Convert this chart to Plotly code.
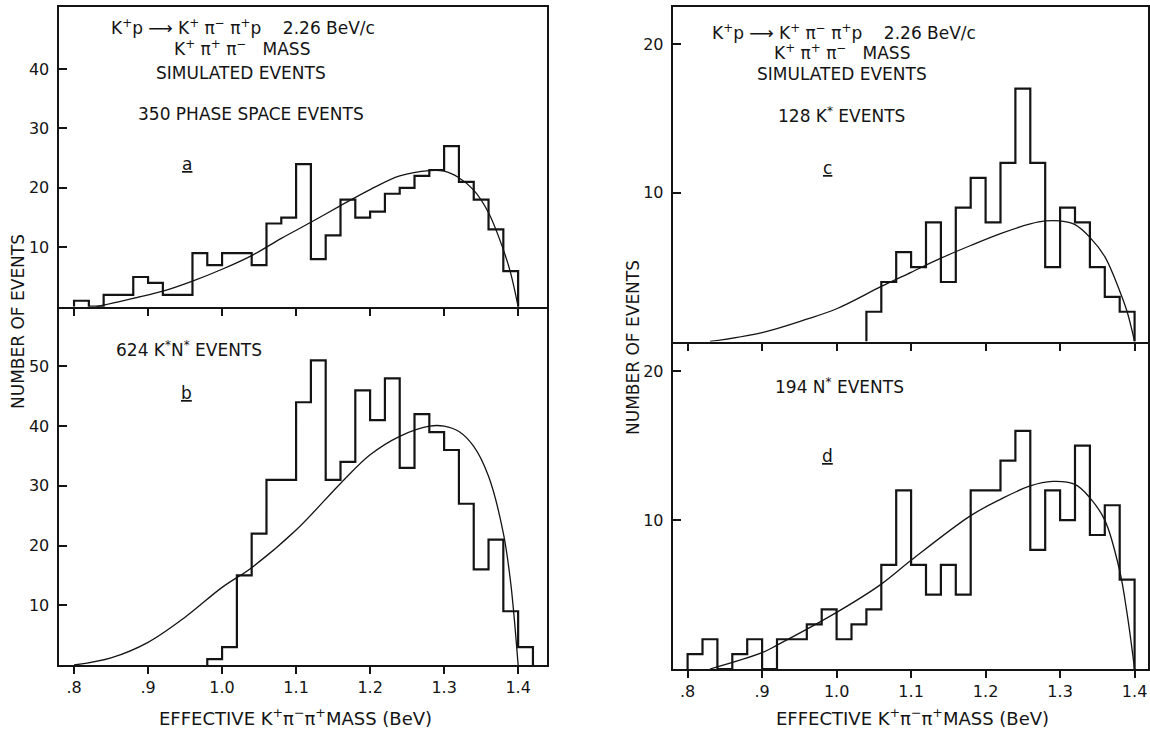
import plotly.graph_objects as go

W, H = 1150, 729
BIN = 0.02

# ---------------- data ----------------
# (a) 350 phase space events
a_start = 0.80
a_counts = [1, 0, 2, 2, 5, 4, 2, 2, 9, 7, 9, 9, 7, 14, 15, 24, 8, 12, 18, 15,
            16, 19, 20, 22, 23, 27, 21, 18, 13, 6]
a_curve_x = [0.83, 0.86, 0.88, 0.92, 0.96, 1.00, 1.04, 1.08, 1.12, 1.16, 1.20,
             1.24, 1.28, 1.30, 1.32, 1.34, 1.36, 1.38, 1.39, 1.40]
a_curve_y = [0.0, 0.8, 1.4, 2.6, 4.3, 6.3, 8.6, 11.5, 14.2, 17.0, 19.7,
             22.0, 22.9, 22.8, 21.7, 19.6, 15.8, 9.6, 5.6, 0.0]

# (b) 624 K*N* events
b_start = 0.98
b_counts = [1, 3, 15, 22, 31, 31, 44, 51, 31, 34, 46, 41, 48, 33, 42, 39, 36,
            27, 16, 21, 9, 3]
b_curve_x = [0.80, 0.85, 0.90, 0.95, 1.00, 1.04, 1.10, 1.16, 1.20, 1.24, 1.28,
             1.30, 1.32, 1.34, 1.36, 1.38, 1.39, 1.40]
b_curve_y = [0.0, 1.2, 3.8, 8.0, 13.0, 16.3, 22.6, 30.4, 35.2, 38.3, 40.0,
             40.0, 39.1, 36.6, 31.6, 22.1, 13.7, 0.0]

# (c) 128 K* events
c_start = 1.04
c_counts = [2, 4, 6, 5, 8, 4, 9, 11, 8, 12, 17, 12, 5, 9, 8, 5, 3, 2]
c_curve_x = [0.83, 0.90, 0.96, 1.00, 1.06, 1.10, 1.14, 1.18, 1.22, 1.26, 1.28,
             1.30, 1.32, 1.34, 1.36, 1.38, 1.39, 1.40]
c_curve_y = [0.0, 0.6, 1.5, 2.2, 3.7, 4.65, 5.6, 6.45, 7.25, 7.9, 8.1,
             8.1, 7.85, 7.0, 5.7, 3.4, 2.0, 0.0]

# (d) 194 N* events
d_start = 0.80
d_counts = [1, 2, 0, 1, 2, 0, 2, 2, 3, 4, 2, 3, 4, 7, 12, 7, 5, 7, 5, 12,
            12, 14, 16, 8, 12, 10, 15, 9, 11, 6]
d_curve_x = [0.83, 0.90, 0.92, 1.00, 1.06, 1.10, 1.18, 1.22, 1.26, 1.29, 1.32,
             1.34, 1.36, 1.38, 1.39, 1.40]
d_curve_y = [0.0, 1.1, 1.6, 3.8, 5.7, 7.3, 10.3, 11.4, 12.3, 12.6, 12.4,
             11.5, 10.0, 6.6, 3.7, 0.0]

x_ticks = [0.8, 0.9, 1.0, 1.1, 1.2, 1.3, 1.4]
x_tick_text = [".8", ".9", "1.0", "1.1", "1.2", "1.3", "1.4"]
a_yticks = [10, 20, 30, 40]
b_yticks = [10, 20, 30, 40, 50]
cd_yticks = [10, 20]

# ---------------- helpers ----------------
def step(start, counts):
    edges = [round(start + BIN * i, 4) for i in range(len(counts) + 1)]
    xs = [edges[0]] + edges
    ys = [0] + list(counts) + [0]
    return xs, ys

def px(x):
    return x / W

def py(y):
    return 1 - y / H

INK = "#141414"
FONT = "DejaVu Sans"

fig = go.Figure()
panels = [
    (a_start, a_counts, a_curve_x, a_curve_y, "x", "y"),
    (b_start, b_counts, b_curve_x, b_curve_y, "x2", "y2"),
    (c_start, c_counts, c_curve_x, c_curve_y, "x3", "y3"),
    (d_start, d_counts, d_curve_x, d_curve_y, "x4", "y4"),
]
for start, counts, cx, cy, xa, ya in panels:
    hx, hy = step(start, counts)
    fig.add_trace(go.Scatter(x=hx, y=hy, mode="lines", line=dict(color=INK, width=2.2, shape="hv"),
                             xaxis=xa, yaxis=ya, showlegend=False, hoverinfo="skip"))
    fig.add_trace(go.Scatter(x=cx, y=cy, mode="lines", line=dict(color=INK, width=1.3, shape="spline", smoothing=1.0),
                             xaxis=xa, yaxis=ya, showlegend=False, hoverinfo="skip"))

# ---------------- axes ----------------
left_dom = [px(58.5), px(547)]
right_dom = [px(672.7), px(1148)]
a_dom = [py(306.7), py(6.5)]
b_dom = [py(665), py(306.7)]
c_dom = [py(341.5), py(6.7)]
d_dom = [py(669), py(341.5)]

def xax(dom, rng, labels, anchor, mirror):
    return dict(domain=dom, range=rng, anchor=anchor, showgrid=False, zeroline=False,
                showline=True, linecolor=INK, linewidth=2, mirror=mirror,
                ticks="outside", ticklen=7, tickwidth=1.5, tickcolor=INK,
                tickvals=x_ticks, ticktext=x_tick_text, showticklabels=labels,
                tickfont=dict(family=FONT, size=16, color=INK))

def yax(dom, rng, tv, anchor):
    return dict(domain=dom, range=rng, anchor=anchor, showgrid=False, zeroline=False,
                showline=True, linecolor=INK, linewidth=2, mirror=True,
                ticks="inside", ticklen=8, tickwidth=1.5, tickcolor=INK,
                tickvals=tv, ticktext=[str(v) for v in tv], ticklabelstandoff=4,
                tickfont=dict(family=FONT, size=16, color=INK))

fig.update_layout(
    width=W, height=H, margin=dict(l=0, r=0, t=0, b=0),
    paper_bgcolor="white", plot_bgcolor="white", showlegend=False,
    xaxis=xax(left_dom, [0.779, 1.439], False, "y", True),
    yaxis=yax(a_dom, [0, 50.5], a_yticks, "x"),
    xaxis2=xax(left_dom, [0.779, 1.439], True, "y2", False),
    yaxis2=yax(b_dom, [0, 60], b_yticks, "x2"),
    xaxis3=xax(right_dom, [0.780, 1.418], False, "y3", True),
    yaxis3=yax(c_dom, [0, 22.5], cd_yticks, "x3"),
    xaxis4=xax(right_dom, [0.780, 1.418], True, "y4", False),
    yaxis4=yax(d_dom, [0, 22], cd_yticks, "x4"),
)

# ---------------- text ----------------
sp = "\u00a0"
reaction = ("K<sup>+</sup>p" + sp + "⟶" + sp + "K<sup>+</sup>" + sp + "π<sup>−</sup>" + sp
            + "π<sup>+</sup>p" + sp * 4 + "2.26 BeV/c")
mass = "K<sup>+</sup>" + sp + "π<sup>+</sup>" + sp + "π<sup>−</sup>" + sp * 3 + "MASS"
xtitle = "EFFECTIVE" + sp + "K<sup>+</sup>π<sup>−</sup>π<sup>+</sup>MASS" + sp + "(BeV)"

TS = 17
texts = [
    # (text, x_px, y_px, size, angle)
    (reaction, 243, 27, TS, 0),
    (mass, 242, 48, TS, 0),
    ("SIMULATED EVENTS", 241, 73, TS, 0),
    ("350 PHASE SPACE EVENTS", 251, 114, TS, 0),
    ("<u>a</u>", 187, 164, TS, 0),
    ("624 K<sup>*</sup>N<sup>*</sup> EVENTS", 189, 349, TS, 0),
    ("<u>b</u>", 186, 393, TS, 0),
    (reaction, 844, 32, TS, 0),
    (mass, 842, 52, TS, 0),
    ("SIMULATED EVENTS", 842, 74, TS, 0),
    ("128 K<sup>*</sup> EVENTS", 841, 115, TS, 0),
    ("<u>c</u>", 827, 168, TS, 0),
    ("194 N<sup>*</sup> EVENTS", 839, 386, TS, 0),
    ("<u>d</u>", 827, 456, TS, 0),
    (xtitle, 295, 717, 18, 0),
    (xtitle, 912, 717, 18, 0),
    ("NUMBER OF EVENTS", 18, 322, 17, -90),
    ("NUMBER OF EVENTS", 633, 348, 17, -90),
]
for t, x, y, s, ang in texts:
    fig.add_annotation(text=t, x=px(x), y=py(y), xref="paper", yref="paper",
                       xanchor="center", yanchor="middle", showarrow=False, textangle=ang,
                       font=dict(family=FONT, size=s, color=INK))

fig.write_html("out.html")
